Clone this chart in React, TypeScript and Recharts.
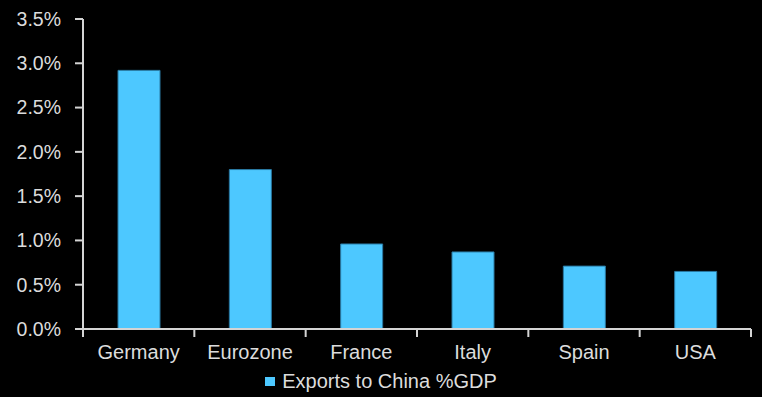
import React from "react";
import { BarChart, Bar, XAxis, YAxis, Legend } from "recharts";

const categories = ["Germany", "Eurozone", "France", "Italy", "Spain", "USA"];
const exportsPct = [2.92, 1.8, 0.96, 0.87, 0.71, 0.65];
const yTicks = [0, 0.5, 1, 1.5, 2, 2.5, 3, 3.5];
const seriesName = "Exports to China %GDP";

const data = categories.map((c, i) => ({ name: c, value: exportsPct[i] }));

const TEXT = "#dcdcdc";
const AXIS = "#d4d4d4";
const FILL = "#4DC8FF";
const FONT = "'Liberation Sans', Arial, sans-serif";

const XTick = (props: any) => {
  const { x, y, payload, index, visibleTicksCount } = props;
  const off = payload && payload.offset ? payload.offset : 668 / 12;
  const last = (visibleTicksCount ?? categories.length) - 1;
  return (
    <g>
      <line x1={x - off} x2={x - off} y1={y} y2={y + 8} stroke={AXIS} strokeWidth={2} />
      {index === last && (
        <line x1={x + off} x2={x + off} y1={y} y2={y + 8} stroke={AXIS} strokeWidth={2} />
      )}
      <text
        x={x}
        y={y + 16}
        dy="0.71em"
        textAnchor="middle"
        fill={TEXT}
        fontSize={20}
        fontFamily={FONT}
      >
        {payload.value}
      </text>
    </g>
  );
};

const LegendContent = () => (
  <div
    style={{
      width: 762,
      height: 28,
      display: "flex",
      alignItems: "center",
      justifyContent: "center",
      fontFamily: FONT,
      fontSize: 20,
      color: TEXT,
    }}
  >
    <span
      style={{
        display: "inline-block",
        width: 10,
        height: 9,
        background: FILL,
        marginRight: 7,
      }}
    />
    <span>{seriesName}</span>
  </div>
);

export default function App() {
  return (
    <div
      style={{
        position: "absolute",
        left: 0,
        top: 0,
        width: 762,
        height: 397,
        background: "#000",
      }}
    >
      <BarChart
        width={762}
        height={397}
        data={data}
        margin={{ top: 19, right: 11, bottom: 0, left: 0 }}
      >
        <XAxis
          dataKey="name"
          height={40}
          axisLine={{ stroke: AXIS, strokeWidth: 2 }}
          tickLine={false}
          tickSize={0}
          tickMargin={0}
          interval={0}
          tick={<XTick />}
        />
        <YAxis
          width={83}
          domain={[0, 3.5]}
          ticks={yTicks}
          interval={0}
          axisLine={{ stroke: AXIS, strokeWidth: 2 }}
          tickLine={{ stroke: AXIS, strokeWidth: 2 }}
          tickSize={8}
          tickMargin={14}
          tickFormatter={(v: number) => v.toFixed(1) + "%"}
          tick={{ fill: TEXT, fontSize: 19.5, fontFamily: FONT }}
        />
        <Legend
          verticalAlign="bottom"
          content={<LegendContent />}
          wrapperStyle={{ left: 0, top: 367, width: 762, height: 28 }}
        />
        <Bar
          dataKey="value"
          name={seriesName}
          fill={FILL}
          stroke="#2a7aa3"
          strokeWidth={1}
          barSize={42}
          isAnimationActive={false}
        />
      </BarChart>
    </div>
  );
}
